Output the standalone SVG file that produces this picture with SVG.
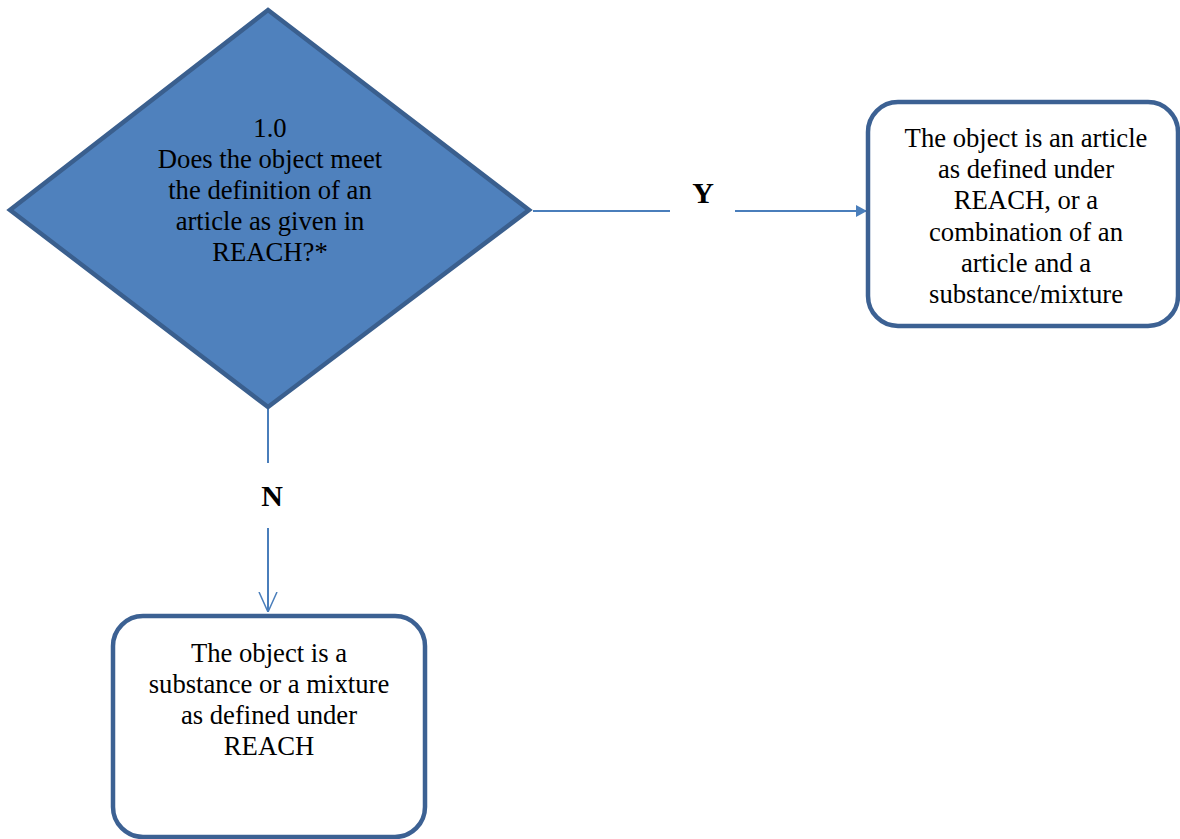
<svg xmlns="http://www.w3.org/2000/svg" width="1180" height="839" viewBox="0 0 1180 839">
<style>
.box{fill:#fff;stroke:#3c6193;stroke-width:4.5}
.dia{fill:#4f81bd;stroke:#3a5f8e;stroke-width:4.5}
.conn{fill:none;stroke:#4a7ebb;stroke-width:2}
</style>
<defs>
<marker id="af" viewBox="0 0 10 10" refX="10" refY="5" markerWidth="11" markerHeight="12" orient="auto" markerUnits="userSpaceOnUse" preserveAspectRatio="none">
<path d="M0,0 L10,5 L0,10 z" fill="#4a7ebb"/>
</marker>
<marker id="ao" viewBox="0 0 20 20" refX="20" refY="10" markerWidth="20" markerHeight="20" orient="auto" markerUnits="userSpaceOnUse">
<path d="M0,1 L20,10 L0,19" fill="none" stroke="#4a7ebb" stroke-width="1.5"/>
</marker>
</defs>
<g id="connectors">
<line class="conn" x1="533" y1="211" x2="670" y2="211"/>
<line class="conn" x1="735" y1="211" x2="867" y2="211" marker-end="url(#af)"/>
<line class="conn" x1="268" y1="408" x2="268" y2="463"/>
<line class="conn" x1="268" y1="528" x2="268" y2="612" marker-end="url(#ao)"/>
<g font-family="'Liberation Serif','Times New Roman',serif" font-size="30" font-weight="bold" text-anchor="middle" fill="#000">
<text x="703" y="203">Y</text>
<text x="272" y="506">N</text>
</g>
</g>
<g id="decision">
<polygon class="dia" points="268,10 529,210 268,407 10,210"/>
<g font-family="'Liberation Serif','Times New Roman',serif" font-size="26.67" text-anchor="middle" fill="#000">
<text x="270" y="137">1.0</text>
<text x="270" y="168">Does the object meet</text>
<text x="270" y="199">the definition of an</text>
<text x="270" y="230">article as given in</text>
<text x="270" y="261">REACH?*</text>
</g>
</g>
<g id="article">
<rect class="box" x="868" y="102" width="310" height="224" rx="30" ry="30"/>
<g font-family="'Liberation Serif','Times New Roman',serif" font-size="26.67" text-anchor="middle" fill="#000">
<text x="1026" y="147">The object is an article</text>
<text x="1026" y="178">as defined under</text>
<text x="1026" y="209">REACH, or a</text>
<text x="1026" y="241">combination of an</text>
<text x="1026" y="272">article and a</text>
<text x="1026" y="303">substance/mixture</text>
</g>
</g>
<g id="substance">
<rect class="box" x="113" y="616" width="312" height="221" rx="30" ry="30"/>
<g font-family="'Liberation Serif','Times New Roman',serif" font-size="26.67" text-anchor="middle" fill="#000">
<text x="269" y="662">The object is a</text>
<text x="269" y="693">substance or a mixture</text>
<text x="269" y="724">as defined under</text>
<text x="269" y="755">REACH</text>
</g>
</g>
</svg>
